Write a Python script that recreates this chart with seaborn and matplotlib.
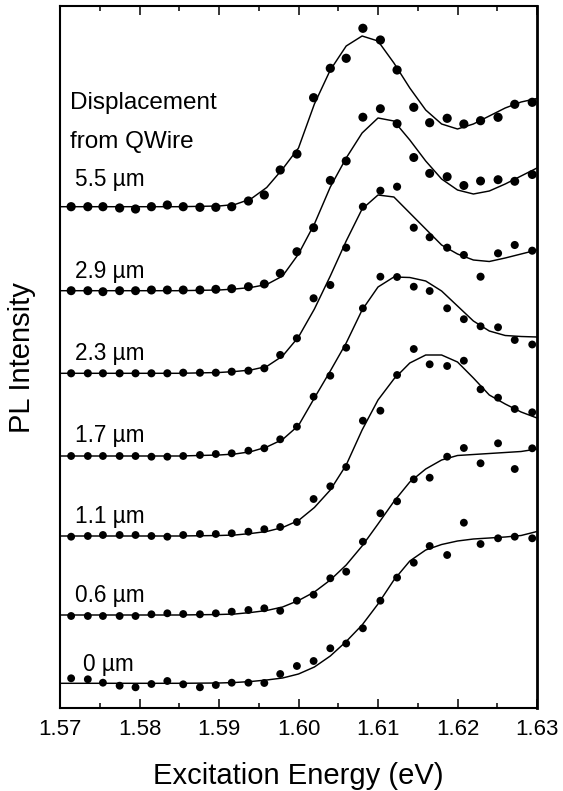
import numpy as np
import pandas as pd
import matplotlib
matplotlib.use("Agg")
import matplotlib.pyplot as plt
import seaborn as sns
from matplotlib.ticker import MultipleLocator, FormatStrFormatter

# Excitation energies of the measured points (eV)
energy_pts = [1.5714, 1.5735, 1.5754, 1.5775, 1.5795, 1.5815, 1.5835, 1.5855,
              1.5876, 1.5896, 1.5916, 1.5937, 1.5957, 1.5977, 1.5998, 1.6019,
              1.6040, 1.6060, 1.6081, 1.6103, 1.6124, 1.6145, 1.6165, 1.6187,
              1.6208, 1.6229, 1.6251, 1.6272, 1.6294]

# Energies at which the model fits are tabulated (eV)
energy_fit = [1.570, 1.585, 1.590, 1.592, 1.594, 1.596, 1.598, 1.600, 1.602,
              1.604, 1.606, 1.608, 1.610, 1.612, 1.614, 1.616, 1.618, 1.620,
              1.622, 1.624, 1.626, 1.628, 1.630]

# Displacement from the quantum wire and the vertical offset of each trace
displacements = ["5.5", "2.9", "2.3", "1.7", "1.1", "0.6", "0"]
offsets = [501.3, 417.3, 334.7, 252.0, 172.0, 93.7, 24.7]

# PLE intensity (arb. units, relative to each trace's baseline)
pl_5_5 = [0, 0, 0, -1.3, -2.3, 0, 1.7, 0, -0.6, -0.6, 0, 5.7, 11.7, 36.7, 52.7,
          109.0, 138.4, 148.4, 178.4, 166.7, 136.7, 99.4, 84.0, 88.4, 82.7, 86.0,
          89.4, 102.4, 104.4]
pl_2_9 = [0, 0, -1.0, 0, 0, 0.7, 0.7, 0.7, 0.7, 1.4, 2.0, 4.0, 6.7, 17.4, 39.0,
          63.0, 110.3, 129.7, 173.5, 182.0, 167.0, 133.2, 117.3, 114.0, 105.2,
          109.7, 111.0, 109.4, 116.2]
pl_2_3 = [0, 0, 0, 0, 0, 0, 0, 0.6, 0.6, 0.6, 1.6, 2.6, 5.0, 18.3, 35.0, 75.0,
          88.3, 125.6, 166.6, 182.6, 186.6, 145.6, 136.1, 125.6, 118.3, 96.6,
          120.0, 128.3, 122.6]
pl_1_7 = [0, 0, 0, 0, 0, -0.7, -0.7, 0, 1.0, 2.0, 2.7, 5.3, 7.7, 16.7, 29.3,
          59.3, 80.3, 108.3, 147.7, 179.3, 179.0, 169.3, 165.0, 147.7, 136.8,
          129.7, 128.7, 116.0, 111.5]
pl_1_1 = [-0.7, 0, 1.0, 1.0, 1.0, 0, -0.7, 1.0, 2.0, 2.0, 2.7, 4.3, 6.8, 9.0,
          14.0, 37.0, 49.7, 69.0, 115.3, 125.3, 161.0, 187.0, 171.7, 170.0, 175.3,
          146.7, 138.3, 127.0, 123.7]
pl_0_6 = [-1.7, -1.7, -1.7, -1.7, -1.7, 0, 1.0, 0.3, 0, 1.0, 2.6, 4.3, 6.0, 3.5,
          13.6, 19.6, 36.0, 42.6, 72.6, 101.0, 113.0, 135.0, 136.6, 157.6, 166.3,
          151.0, 171.0, 145.3, 166.0]
pl_0_0 = [5.0, 4.0, 0.6, -2.4, -4.0, -0.7, 2.3, -1.0, -4.0, -1.7, 0.6, 0.6, 0.3,
          9.3, 17.3, 22.3, 35.0, 39.8, 55.0, 82.6, 105.7, 120.6, 137.3, 128.3,
          160.6, 139.3, 145.0, 146.6, 145.0]

# Model fits (same units)
fit_5_5 = [0, 0, 0.7, 2.2, 7.7, 19.2, 37.7, 58.7, 102.7, 136.7, 160.7, 170.7,
           165.7, 143.7, 118.7, 96.7, 82.7, 77.7, 82.7, 90.7, 98.7, 104.7, 108.2]
fit_2_9 = [0, 0, 0.7, 1.7, 3.2, 6.2, 14.7, 36.7, 66.7, 103.7, 132.7, 157.7,
           172.7, 169.7, 150.7, 129.7, 111.7, 100.7, 96.7, 99.7, 106.7, 114.7, 122.7]
fit_2_3 = [0, 0, 0.8, 1.8, 3.3, 6.8, 17.3, 36.3, 64.3, 97.3, 132.3, 164.3,
           178.3, 176.3, 160.3, 144.3, 128.3, 119.3, 113.3, 111.8, 115.3, 119.3, 123.3]
fit_1_7 = [0, 0, 1.0, 2.0, 4.3, 9.0, 16.5, 30.5, 58.0, 85.0, 113.0, 146.0,
           169.0, 179.0, 178.5, 175.0, 165.0, 150.0, 135.0, 125.0, 120.5, 119.5, 119.0]
fit_1_1 = [0, 0, 0.5, 1.0, 2.5, 4.5, 8.5, 15.5, 28.5, 46.0, 71.0, 106.0, 136.0,
           157.0, 173.0, 181.0, 181.0, 174.0, 158.0, 141.0, 132.0, 124.0, 118.0]
fit_0_6 = [-0.7, -0.7, -0.2, 0.3, 1.8, 3.8, 7.3, 13.8, 22.3, 34.3, 49.3, 68.3,
           90.3, 112.8, 132.3, 145.3, 154.3, 158.8, 159.8, 160.8, 161.8, 162.8, 165.3]
fit_0_0 = [0, 0, 0.3, 0.8, 1.8, 3.3, 5.3, 9.3, 16.3, 27.3, 41.8, 58.3, 79.3,
           103.3, 122.3, 133.3, 138.8, 142.3, 144.3, 145.3, 146.3, 147.8, 151.8]

pl_sets = [pl_5_5, pl_2_9, pl_2_3, pl_1_7, pl_1_1, pl_0_6, pl_0_0]
fit_sets = [fit_5_5, fit_2_9, fit_2_3, fit_1_7, fit_1_1, fit_0_6, fit_0_0]

# Label heights above each trace's baseline
label_rise = [20.7, 13.0, 13.3, 14.3, 12.7, 12.6, 12.3]

# Marker area for each trace
marker_area = {"5.5": 44, "2.9": 42, "2.3": 34, "1.7": 32, "1.1": 32,
               "0.6": 32, "0": 32}

# Long-form tables for seaborn
pts_df = pd.concat([
    pd.DataFrame({"energy": energy_pts,
                  "y": np.asarray(vals) + off,
                  "disp": d})
    for d, off, vals in zip(displacements, offsets, pl_sets)
], ignore_index=True)
fit_df = pd.concat([
    pd.DataFrame({"energy": energy_fit,
                  "y": np.asarray(vals) + off,
                  "disp": d})
    for d, off, vals in zip(displacements, offsets, fit_sets)
], ignore_index=True)

sns.set_theme(style="ticks")
plt.rcParams["font.family"] = ["Liberation Sans", "DejaVu Sans"]

W, H = 563, 791
fig = plt.figure(figsize=(W / 100, H / 100), dpi=100)
ax = fig.add_axes([60.0 / W, 1 - 708.0 / H, 477.0 / W, 702.0 / H])

sns.lineplot(data=fit_df, x="energy", y="y", units="disp", estimator=None,
             sort=False, color="black", linewidth=1.05, ax=ax, legend=False)
sns.scatterplot(data=pts_df, x="energy", y="y", size="disp", sizes=marker_area,
                color="black", edgecolor="none", linewidth=0, ax=ax,
                legend=False, zorder=3)

ax.set_xlim(1.57, 1.63)
ax.set_ylim(0, 702)
ax.xaxis.set_major_locator(MultipleLocator(0.01))
ax.xaxis.set_minor_locator(MultipleLocator(0.005))
ax.xaxis.set_major_formatter(FormatStrFormatter("%.2f"))
ax.set_yticks([])
ax.tick_params(axis="x", which="both", direction="in", top=True, bottom=True,
               colors="black", labelsize=16, pad=8)
ax.tick_params(axis="x", which="major", length=6.5, width=1.1)
ax.tick_params(axis="x", which="minor", length=3.5, width=1.1)
for sp in ax.spines.values():
    sp.set_visible(True)
    sp.set_color("black")
    sp.set_linewidth(1.5)
ax.spines["right"].set_linewidth(2.0)

ax.set_xlabel("Excitation Energy (eV)", fontsize=21, color="black",
              labelpad=15.5)
ax.set_ylabel("")
fig.text(22 / W, 1 - 358 / H, "PL Intensity", rotation=90, ha="center",
         va="center", fontsize=21, color="black")

# Legend-style annotations
ax.text(1.5712, 702 - 103.3, "Displacement", fontsize=17.5, color="black",
        ha="left", va="baseline")
ax.text(1.5712, 702 - 142.3, "from QWire", fontsize=17.5, color="black",
        ha="left", va="baseline")
for i, (d, off) in enumerate(zip(displacements, offsets)):
    x0 = 1.5729 if d == "0" else 1.5719
    ax.text(x0, off + label_rise[i], f"{d} \u00b5m", fontsize=16.3,
            color="black", ha="left", va="baseline")

fig.savefig("out.png", dpi=100)
